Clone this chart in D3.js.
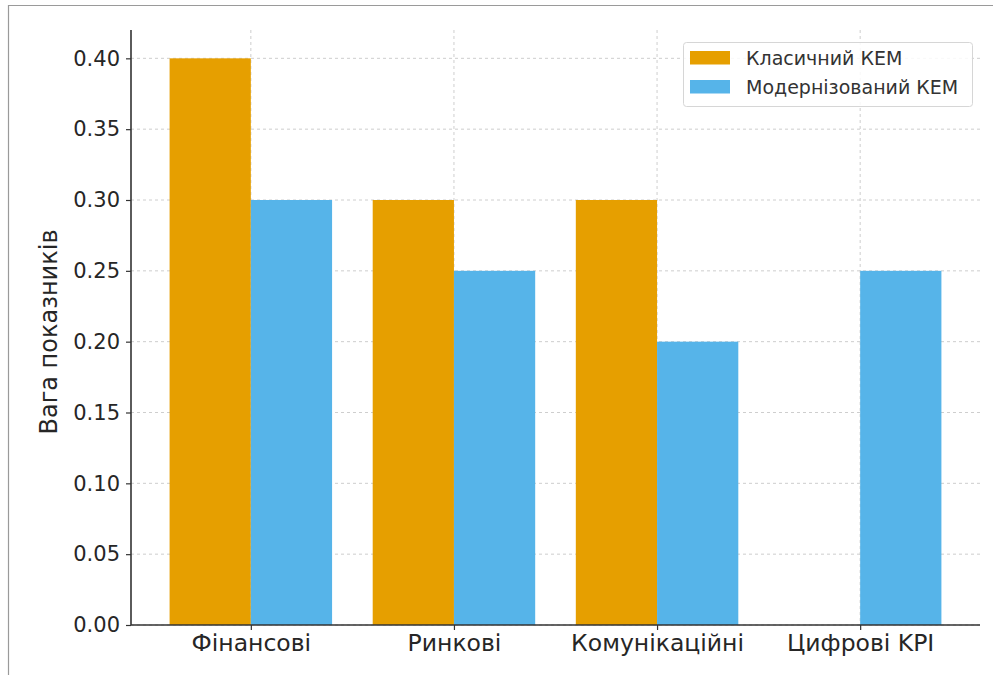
<!DOCTYPE html>
<html>
<head>
<meta charset="utf-8">
<script src="https://cdn.jsdelivr.net/npm/d3@7"></script>
<style>
  html, body { margin: 0; padding: 0; background: #fff; }
  svg { display: block; font-family: "DejaVu Sans", sans-serif; }
</style>
</head>
<body>
<svg id="chart" width="993" height="675"></svg>
<script>
// Indicator groups and their weights in the two models
const categories = ["Фінансові", "Ринкові", "Комунікаційні", "Цифрові KPI"];
const classicValues = [0.40, 0.30, 0.30, 0.00];
const modernValues = [0.30, 0.25, 0.20, 0.25];
const seriesNames = ["Класичний КЕМ", "Модернізований КЕМ"];
const seriesColors = ["#E69F00", "#56B4E9"];
const yTicks = [0.00, 0.05, 0.10, 0.15, 0.20, 0.25, 0.30, 0.35, 0.40];
const yLabel = "Вага показників";

const svg = d3.select("#chart");
const W = 993, H = 675;
const margin = { left: 131, right: 13, top: 30, bottom: 50 };
const plotRight = W - margin.right;
const plotBottom = H - margin.bottom;

// Frame lines around the figure
svg.append("line").attr("x1", 8).attr("x2", W).attr("y1", 5.5).attr("y2", 5.5)
  .attr("stroke", "#9a9a9a").attr("stroke-width", 1.2);
svg.append("line").attr("x1", 8.5).attr("x2", 8.5).attr("y1", 5).attr("y2", H)
  .attr("stroke", "#9a9a9a").attr("stroke-width", 1.2);

// Numeric x scale mirrors category positions 0..n-1 with bar width 0.4
const barW = 0.4;
const x = d3.scaleLinear().domain([-0.59, categories.length - 1 + 0.59])
  .range([margin.left, plotRight]);
const y = d3.scaleLinear().domain([0, 0.42]).range([plotBottom, margin.top]);

// Grid
const grid = svg.append("g").attr("stroke", "#c8c8c8").attr("stroke-dasharray", "3,3")
  .attr("stroke-width", 0.9);
grid.selectAll("line.h").data(yTicks).join("line").attr("class", "h")
  .attr("x1", margin.left).attr("x2", plotRight)
  .attr("y1", d => y(d)).attr("y2", d => y(d));
grid.selectAll("line.v").data(categories).join("line").attr("class", "v")
  .attr("x1", (d, i) => x(i)).attr("x2", (d, i) => x(i))
  .attr("y1", margin.top).attr("y2", plotBottom);

// Bars
const series = [classicValues, modernValues];
series.forEach((vals, s) => {
  svg.append("g").selectAll("rect").data(vals).join("rect")
    .attr("x", (d, i) => x(i + (s === 0 ? -barW : 0)))
    .attr("width", x(barW) - x(0))
    .attr("y", d => y(d))
    .attr("height", d => y(0) - y(d))
    .attr("fill", seriesColors[s]);
});

// Axes
const yAxis = d3.axisLeft(y).tickValues(yTicks).tickFormat(d3.format(".2f"))
  .tickSize(5).tickPadding(6);
const gy = svg.append("g").attr("transform", `translate(${margin.left},0)`).call(yAxis);
const xAxis = d3.axisBottom(x).tickValues(d3.range(categories.length))
  .tickFormat(i => categories[i]).tickSize(5).tickPadding(4);
const gx = svg.append("g").attr("transform", `translate(0,${plotBottom})`).call(xAxis);

[gx, gy].forEach(g => {
  g.select(".domain").attr("stroke", "#333").attr("stroke-width", 1.6);
  g.selectAll(".tick line").attr("stroke", "#333").attr("stroke-width", 1.2);
  g.selectAll(".tick text").attr("fill", "#262626")
    .style("font-family", "DejaVu Sans, sans-serif");
});
gy.selectAll(".tick text").style("font-size", "21px");
gx.selectAll(".tick text").style("font-size", "23.5px");
gy.select(".domain").attr("d", `M0,${margin.top}V${plotBottom}`);
gx.select(".domain").attr("d", `M${margin.left},0H${plotRight}`);

// Y axis title
svg.append("text")
  .attr("transform", `translate(57,332) rotate(-90)`)
  .attr("text-anchor", "middle")
  .attr("fill", "#262626")
  .style("font-size", "24px")
  .text(yLabel);

// Legend
const lg = svg.append("g");
lg.append("rect").attr("x", 683.5).attr("y", 42.5).attr("width", 289).attr("height", 64)
  .attr("rx", 3).attr("fill", "#fff").attr("fill-opacity", 0.85)
  .attr("stroke", "#d6d6d6");
seriesNames.forEach((name, i) => {
  lg.append("rect").attr("x", 690).attr("y", 51 + i * 29).attr("width", 40).attr("height", 13.5)
    .attr("fill", seriesColors[i]);
  lg.append("text").attr("x", 746).attr("y", 65 + i * 29)
    .attr("fill", "#333").style("font-size", "19px").text(name);
});
</script>
</body>
</html>
